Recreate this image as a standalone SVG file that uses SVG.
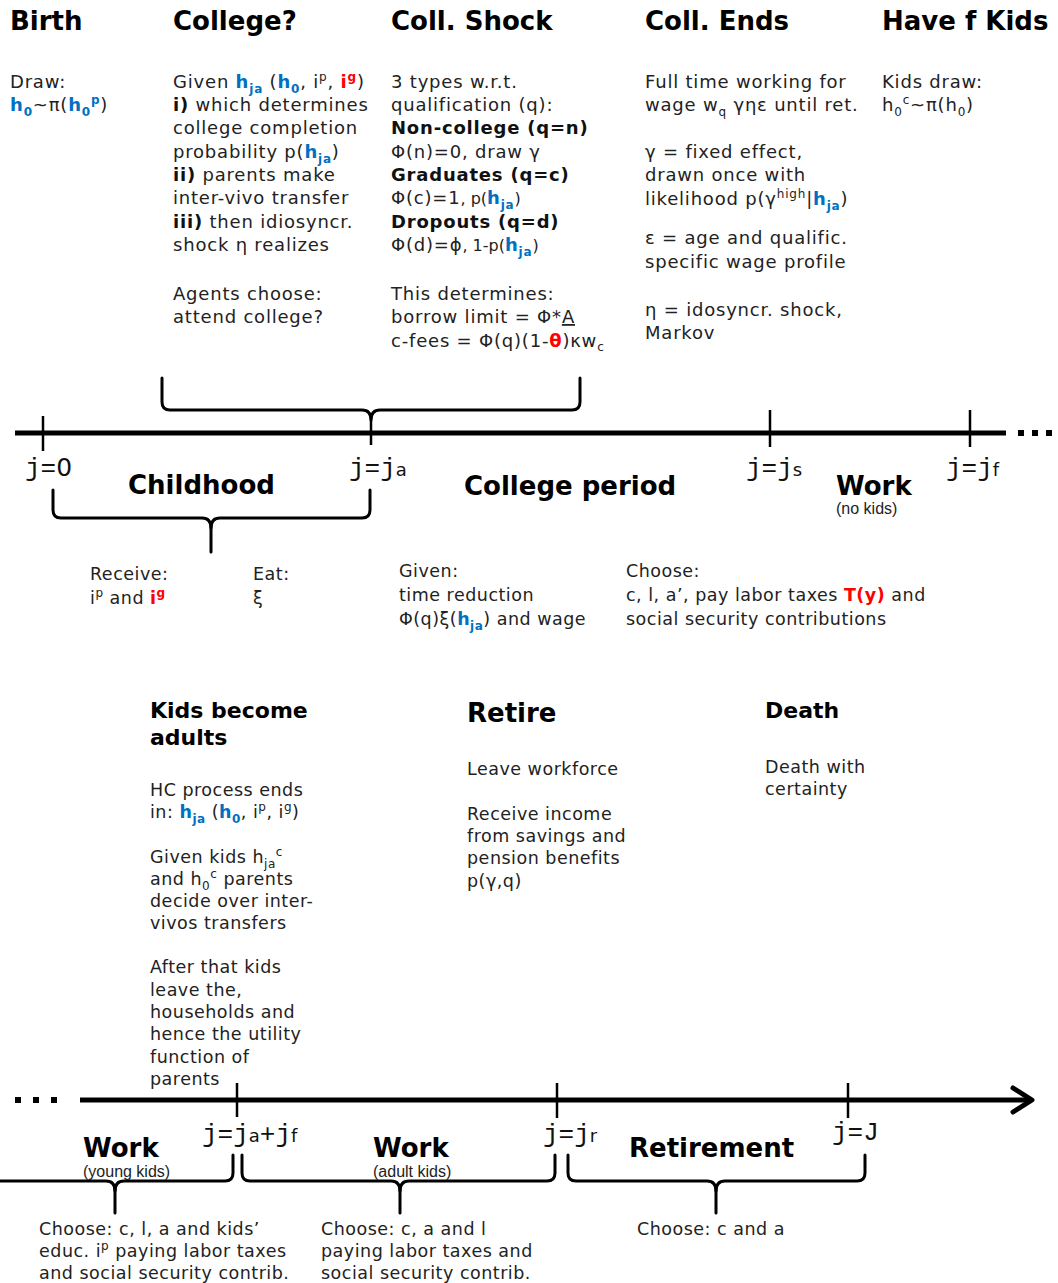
<svg xmlns="http://www.w3.org/2000/svg" width="1058" height="1283" viewBox="0 0 1058 1283">
<style>
text{font-family:"DejaVu Sans","Verdana",sans-serif;fill:#222}
.h{font-weight:bold;font-size:26px;fill:#000}
.h2{font-weight:bold;font-size:22px;fill:#000}
.t{font-size:18px;letter-spacing:0.8px}
.m{font-size:17.5px;letter-spacing:0.5px}
.j{font-family:"Liberation Mono","DejaVu Sans Mono",monospace;font-size:26px;fill:#111}
.js{font-family:"DejaVu Sans",sans-serif;font-size:18px}
.jz{font-family:"DejaVu Sans",sans-serif;font-size:25px}
.sm{font-family:"Liberation Sans","Arial",sans-serif;font-size:16px;fill:#222}
.hb{fill:#0070C0;font-weight:bold}
.rb{fill:#FF0000;font-weight:bold}
.bd{font-weight:bold;fill:#111}
.s{font-size:12px}
.ax{stroke:#000;stroke-width:5;fill:none}
.tk{stroke:#000;stroke-width:2.5;fill:none}
.br{stroke:#000;stroke-width:3;fill:none;stroke-linejoin:round;stroke-linecap:round}
.dot{fill:#000}
</style>

<g id="connectors">
  <line class="ax" x1="15" y1="433" x2="1006" y2="433"/>
  <rect class="dot" x="1018" y="430" width="6" height="6"/>
  <rect class="dot" x="1032" y="430" width="6" height="6"/>
  <rect class="dot" x="1046" y="430" width="6" height="6"/>
  <line class="tk" x1="43" y1="416" x2="43" y2="451"/>
  <line class="tk" x1="770" y1="410" x2="770" y2="447"/>
  <line class="tk" x1="970" y1="410" x2="970" y2="447"/>
  <path class="br" d="M162,378 V402 Q162,410 170,410 H362 Q371,410 371,420 Q371,410 380,410 H572 Q580,410 580,402 V378"/>
  <line class="tk" x1="371" y1="418" x2="371" y2="445"/>
  <path class="br" d="M53,490 V510 Q53,518 61,518 H202 Q211,518 211,528 Q211,518 220,518 H362 Q370,518 370,510 V490"/>
  <line class="br" x1="211" y1="526" x2="211" y2="552"/>

  <line class="ax" x1="80" y1="1100" x2="1030" y2="1100"/>
  <path class="ax" d="M1013,1088 L1032,1100 L1013,1112" stroke-linecap="round" stroke-linejoin="round"/>
  <rect class="dot" x="15" y="1097" width="6" height="6"/>
  <rect class="dot" x="33" y="1097" width="6" height="6"/>
  <rect class="dot" x="51" y="1097" width="6" height="6"/>
  <line class="tk" x1="237" y1="1083" x2="237" y2="1117"/>
  <line class="tk" x1="557" y1="1083" x2="557" y2="1118"/>
  <line class="tk" x1="848" y1="1083" x2="848" y2="1118"/>
  <path class="br" d="M-5,1181 H106 Q115,1181 115,1191 Q115,1181 124,1181 H225 Q233,1181 233,1173 V1155"/>
  <line class="br" x1="115" y1="1189" x2="115" y2="1213"/>
  <path class="br" d="M242,1155 V1173 Q242,1181 250,1181 H391 Q400,1181 400,1191 Q400,1181 409,1181 H547 Q555,1181 555,1173 V1155"/>
  <line class="br" x1="400" y1="1189" x2="400" y2="1213"/>
  <path class="br" d="M568,1155 V1173 Q568,1181 576,1181 H707 Q716,1181 716,1191 Q716,1181 725,1181 H857 Q865,1181 865,1173 V1155"/>
  <line class="br" x1="716" y1="1189" x2="716" y2="1213"/>
</g>

<g id="birth">
  <text class="h" x="10" y="30">Birth</text>
  <text class="t" x="10" y="88">Draw:</text>
  <text class="t" x="10" y="111"><tspan class="hb">h</tspan><tspan class="hb s" dy="5">0</tspan><tspan dy="-5">~π(</tspan><tspan class="hb">h</tspan><tspan class="hb s" dy="5">0</tspan><tspan class="hb s" dy="-12">p</tspan><tspan dy="7">)</tspan></text>
</g>

<g id="college">
  <text class="h" x="173" y="30">College?</text>
  <text class="t" x="173" y="88">Given <tspan class="hb">h</tspan><tspan class="hb s" dy="5">ja</tspan><tspan dy="-5"> (</tspan><tspan class="hb">h</tspan><tspan class="hb s" dy="5">0</tspan><tspan dy="-5">, i</tspan><tspan class="s" dy="-7">p</tspan><tspan dy="7">, </tspan><tspan class="rb">i</tspan><tspan class="rb s" dy="-7">g</tspan><tspan dy="7">)</tspan></text>
  <text class="t" x="173" y="111"><tspan class="bd">i)</tspan> which determines</text>
  <text class="t" x="173" y="134">college completion</text>
  <text class="t" x="173" y="158">probability p(<tspan class="hb">h</tspan><tspan class="hb s" dy="5">ja</tspan><tspan dy="-5">)</tspan></text>
  <text class="t" x="173" y="181"><tspan class="bd">ii)</tspan> parents make</text>
  <text class="t" x="173" y="204">inter-vivo transfer</text>
  <text class="t" x="173" y="228"><tspan class="bd">iii)</tspan> then idiosyncr.</text>
  <text class="t" x="173" y="251">shock η realizes</text>
  <text class="t" x="173" y="300">Agents choose:</text>
  <text class="t" x="173" y="323">attend college?</text>
</g>

<g id="coll-shock">
  <text class="h" x="391" y="30">Coll. Shock</text>
  <text class="t" x="391" y="88">3 types w.r.t.</text>
  <text class="t" x="391" y="111">qualification (q):</text>
  <text class="t bd" x="391" y="134">Non-college (q=n)</text>
  <text class="t" x="391" y="158">Φ(n)=0, draw γ</text>
  <text class="t bd" x="391" y="181">Graduates (q=c)</text>
  <text class="t" x="391" y="204">Φ(c)=1<tspan font-size="16" letter-spacing="0">, p(</tspan><tspan class="hb">h</tspan><tspan class="hb s" dy="5">ja</tspan><tspan dy="-5" font-size="16">)</tspan></text>
  <text class="t bd" x="391" y="228">Dropouts (q=d)</text>
  <text class="t" x="391" y="251">Φ(d)=ϕ<tspan font-size="16" letter-spacing="0">, 1-p(</tspan><tspan class="hb">h</tspan><tspan class="hb s" dy="5">ja</tspan><tspan dy="-5" font-size="16">)</tspan></text>
  <text class="t" x="391" y="300">This determines:</text>
  <text class="t" x="391" y="323">borrow limit = Φ*<tspan text-decoration="underline">A</tspan></text>
  <text class="t" x="391" y="347">c-fees = Φ(q)(1-<tspan class="rb">θ</tspan>)κw<tspan class="s" dy="4">c</tspan></text>
</g>

<g id="coll-ends">
  <text class="h" x="645" y="30">Coll. Ends</text>
  <text class="t" x="645" y="88">Full time working for</text>
  <text class="t" x="645" y="111">wage w<tspan class="s" dy="5">q</tspan><tspan dy="-5"> γηε until ret.</tspan></text>
  <text class="t" x="645" y="158">γ = fixed effect,</text>
  <text class="t" x="645" y="181">drawn once with</text>
  <text class="t" x="645" y="205">likelihood p(γ<tspan class="s" dy="-7">high</tspan><tspan dy="7">|</tspan><tspan class="hb">h</tspan><tspan class="hb s" dy="5">ja</tspan><tspan dy="-5">)</tspan></text>
  <text class="t" x="645" y="244">ε = age and qualific.</text>
  <text class="t" x="645" y="268">specific wage profile</text>
  <text class="t" x="645" y="316">η = idosyncr. shock,</text>
  <text class="t" x="645" y="339">Markov</text>
</g>

<g id="have-kids">
  <text class="h" x="882" y="30">Have f Kids</text>
  <text class="t" x="882" y="88">Kids draw:</text>
  <text class="t" x="882" y="111">h<tspan class="s" dy="5">0</tspan><tspan class="s" dy="-12">c</tspan><tspan dy="7">~π(h</tspan><tspan class="s" dy="5">0</tspan><tspan dy="-5">)</tspan></text>
</g>

<g id="labels-top">
  <text class="j" x="25" y="476">j=<tspan class="jz">0</tspan></text>
  <text class="j" x="349" y="476">j=j<tspan class="js">a</tspan></text>
  <text class="j" x="746" y="476">j=j<tspan class="js">s</tspan></text>
  <text class="j" x="946" y="476">j=j<tspan class="js">f</tspan></text>
</g>

<g id="childhood">
  <text class="h" x="128" y="494">Childhood</text>
  <text class="m" x="90" y="580">Receive:</text>
  <text class="m" x="90" y="604">i<tspan class="s" dy="-7">p</tspan><tspan dy="7"> and </tspan><tspan class="rb">i</tspan><tspan class="rb s" dy="-7">g</tspan></text>
  <text class="m" x="253" y="580">Eat:</text>
  <text class="m" x="253" y="604">ξ</text>
</g>

<g id="college-period">
  <text class="h" x="464" y="495">College period</text>
  <text class="m" x="399" y="577">Given:</text>
  <text class="m" x="399" y="601">time reduction</text>
  <text class="m" x="399" y="625">Φ(q)ξ(<tspan class="hb">h</tspan><tspan class="hb s" dy="5">ja</tspan><tspan dy="-5">) and wage</tspan></text>
</g>

<g id="work-no-kids">
  <text class="h" x="836" y="495">Work</text>
  <text class="sm" x="836" y="514">(no kids)</text>
  <text class="m" x="626" y="577">Choose:</text>
  <text class="m" x="626" y="601">c, l, a’, pay labor taxes <tspan class="rb">T(y)</tspan> and</text>
  <text class="m" x="626" y="625">social security contributions</text>
</g>

<g id="kids-adults">
  <text class="h2" x="150" y="718">Kids become</text>
  <text class="h2" x="150" y="745">adults</text>
  <text class="m" x="150" y="796">HC process ends</text>
  <text class="m" x="150" y="818">in: <tspan class="hb">h</tspan><tspan class="hb s" dy="5">ja</tspan><tspan dy="-5"> (</tspan><tspan class="hb">h</tspan><tspan class="hb s" dy="5">0</tspan><tspan dy="-5">, i</tspan><tspan class="s" dy="-7">p</tspan><tspan dy="7">, i</tspan><tspan class="s" dy="-7">g</tspan><tspan dy="7">)</tspan></text>
  <text class="m" x="150" y="863">Given kids h<tspan class="s" dy="5">ja</tspan><tspan class="s" dy="-12">c</tspan></text>
  <text class="m" x="150" y="885">and h<tspan class="s" dy="5">0</tspan><tspan class="s" dy="-12">c</tspan><tspan dy="7"> parents</tspan></text>
  <text class="m" x="150" y="907">decide over inter-</text>
  <text class="m" x="150" y="929">vivos transfers</text>
  <text class="m" x="150" y="973">After that kids</text>
  <text class="m" x="150" y="996">leave the,</text>
  <text class="m" x="150" y="1018">households and</text>
  <text class="m" x="150" y="1040">hence the utility</text>
  <text class="m" x="150" y="1063">function of</text>
  <text class="m" x="150" y="1085">parents</text>
</g>

<g id="retire">
  <text class="h" x="467" y="722" font-size="25">Retire</text>
  <text class="m" x="467" y="775">Leave workforce</text>
  <text class="m" x="467" y="820">Receive income</text>
  <text class="m" x="467" y="842">from savings and</text>
  <text class="m" x="467" y="864">pension benefits</text>
  <text class="m" x="467" y="887">p(γ,q)</text>
</g>

<g id="death">
  <text class="h2" x="765" y="718">Death</text>
  <text class="m" x="765" y="773">Death with</text>
  <text class="m" x="765" y="795">certainty</text>
</g>

<g id="labels-bottom">
  <text class="j" x="202" y="1142">j=j<tspan class="js">a</tspan><tspan>+j</tspan><tspan class="js">f</tspan></text>
  <text class="j" x="543" y="1142">j=j<tspan class="js">r</tspan></text>
  <text class="j" x="832" y="1140">j=J</text>
</g>

<g id="work-young-kids">
  <text class="h" x="83" y="1157">Work</text>
  <text class="sm" x="83" y="1177">(young kids)</text>
  <text class="m" x="39" y="1235">Choose: c, l, a and kids’</text>
  <text class="m" x="39" y="1257">educ. i<tspan class="s" dy="-7">p</tspan><tspan dy="7"> paying labor taxes</tspan></text>
  <text class="m" x="39" y="1279">and social security contrib.</text>
</g>

<g id="work-adult-kids">
  <text class="h" x="373" y="1157">Work</text>
  <text class="sm" x="373" y="1177">(adult kids)</text>
  <text class="m" x="321" y="1235">Choose: c, a and l</text>
  <text class="m" x="321" y="1257">paying labor taxes and</text>
  <text class="m" x="321" y="1279">social security contrib.</text>
</g>

<g id="retirement">
  <text class="h" x="629" y="1157" font-size="25">Retirement</text>
  <text class="m" x="637" y="1235">Choose: c and a</text>
</g>
</svg>
